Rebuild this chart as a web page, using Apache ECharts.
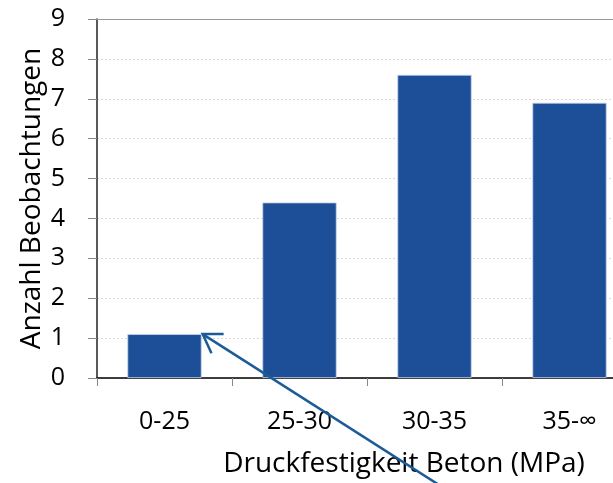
<!DOCTYPE html>
<html>
<head>
<meta charset="utf-8">
<script src="https://cdn.jsdelivr.net/npm/echarts@6/dist/echarts.min.js"></script>
<style>
  html, body { margin: 0; padding: 0; background: #fff; overflow: hidden; }
  /* plot continues past the right edge of the window, like the cropped original */
  #chart { width: 637px; height: 483px; }
</style>
</head>
<body>
<div id="chart"></div>
<script>
  // Druckfestigkeit classes and observed counts
  const categories = ['0-25', '25-30', '30-35', '35-\u221e'];
  const counts = [1.1, 4.4, 7.6, 6.9];
  const yMin = 0, yMax = 9, yStep = 1;

  const font = '"Open Sans", sans-serif';
  const barColor = '#1d4e98';
  const arrowColor = '#1b5b97';
  const barGap = 0.45;

  const chart = echarts.init(document.getElementById('chart'));
  chart.setOption({
    animation: false,
    backgroundColor: '#fff',
    grid: { left: 97, top: 19, bottom: 105, right: 0 },
    xAxis: {
      type: 'category',
      data: categories,
      name: 'Druckfestigkeit Beton (MPa)',
      nameLocation: 'middle',
      nameGap: 72,
      nameMoveOverlap: false,
      nameTextStyle: { fontFamily: font, fontSize: 28, color: '#000', padding: [0, 0, 0, 74] },
      axisLine: { lineStyle: { color: '#000', width: 1.5 } },
      axisTick: { show: true, length: 8, lineStyle: { color: '#888' } },
      axisLabel: { fontFamily: font, fontSize: 25, color: '#000', margin: 31 },
      splitLine: { show: false }
    },
    yAxis: {
      type: 'value',
      min: yMin,
      max: yMax,
      interval: yStep,
      name: 'Anzahl Beobachtungen',
      nameLocation: 'middle',
      nameGap: 51,
      nameMoveOverlap: false,
      nameTextStyle: { fontFamily: font, fontSize: 28, color: '#000' },
      axisLine: { show: true, lineStyle: { color: '#222', width: 1.5 } },
      axisTick: { show: true, length: 9, lineStyle: { color: '#888' } },
      axisLabel: { fontFamily: font, fontSize: 25, color: '#000', margin: 32 },
      splitLine: { show: true, lineStyle: { color: '#d9d9d9', type: [2, 2], width: 1 } }
    },
    series: [{
      type: 'bar',
      data: counts,
      barCategoryGap: (barGap * 100) + '%',
      itemStyle: { color: barColor, borderColor: '#c8d4ea', borderWidth: 0.8 },
      markLine: {
        silent: true,
        symbol: 'none',
        label: { show: false },
        lineStyle: { color: '#999', type: 'solid', width: 1 },
        data: [{ yAxis: yMax }]
      }
    }]
  });

  // annotation arrow pointing at the top right corner of the first bar
  const centre = chart.convertToPixel({ seriesIndex: 0 }, [categories[0], counts[0]]);
  const catWidth = chart.convertToPixel({ xAxisIndex: 0 }, categories[1]) -
                   chart.convertToPixel({ xAxisIndex: 0 }, categories[0]);
  const tip = [centre[0] + catWidth * (1 - barGap) / 2 + 1, centre[1]];
  const ang = Math.atan2(148, 232);
  const tail = [tip[0] + 300 * Math.cos(ang), tip[1] + 300 * Math.sin(ang)];
  const wing = 21, spread = ang;
  chart.setOption({
    graphic: [{
      type: 'line',
      z: 100,
      shape: { x1: tip[0], y1: tip[1], x2: tail[0], y2: tail[1] },
      style: { stroke: arrowColor, lineWidth: 2.5 }
    }, {
      type: 'polyline',
      z: 100,
      shape: {
        points: [
          [tip[0] + wing * Math.cos(ang - spread), tip[1] + wing * Math.sin(ang - spread)],
          tip,
          [tip[0] + wing * Math.cos(ang + spread), tip[1] + wing * Math.sin(ang + spread)]
        ]
      },
      style: { stroke: arrowColor, lineWidth: 2.5, fill: null }
    }]
  });
</script>
</body>
</html>
